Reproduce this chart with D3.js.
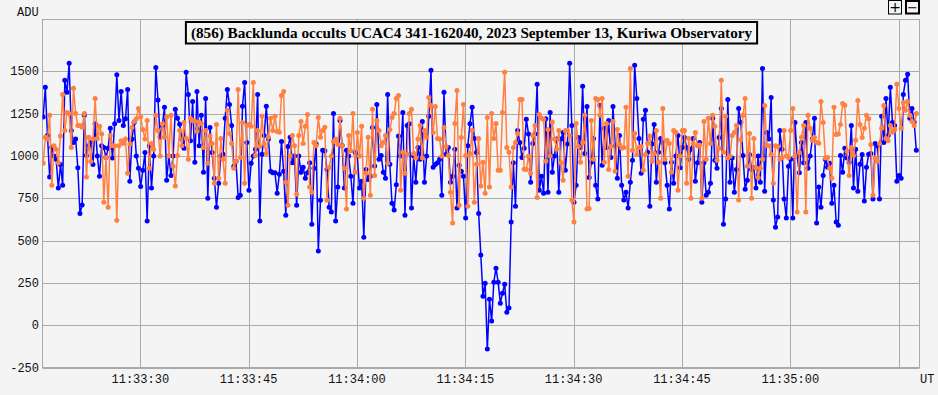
<!DOCTYPE html>
<html>
<head>
<meta charset="utf-8">
<script src="https://cdn.jsdelivr.net/npm/d3@7"></script>
<style>
  body { margin: 0; background: #f4f4f4; }
  svg { display: block; }
</style>
</head>
<body>
<svg id="chart" width="938" height="395"></svg>
<script>
const title = '(856) Backlunda occults UCAC4 341-162040, 2023 September 13, Kuriwa Observatory';
const yLabel = 'ADU';
const xLabel = 'UT';
const startTime = '2023-09-13T11:33:16.55Z';
const frameSeconds = 0.3;
const viewStart = '2023-09-13T11:33:16.46Z';
const viewEnd = '2023-09-13T11:35:17.89Z';
const yTicks = [-250, 0, 250, 500, 750, 1000, 1250, 1500];
const yTop = 1806;

// target star (blue)
const target = [
  1230,1405,1120,875,1050,1000,980,810,950,827,1447,1376,1547,1150,1080,1100,930,660,710,1240,
  1003,1060,1080,950,1190,1000,880,1060,1050,990,1045,1163,987,1190,1480,1210,1380,1180,1220,1393,
  850,1100,1197,1000,927,820,915,1020,615,1060,810,1000,1523,1330,1110,1180,1287,857,1000,
  885,1000,1276,1223,1187,1100,1045,1494,1363,1090,1322,963,1381,1060,1240,903,1340,750,1168,1020,
  868,697,838,1000,1010,1223,1393,1304,1180,939,968,755,767,1293,1434,1080,797,957,1000,1040,
  1363,615,1010,1120,1293,1100,909,900,900,779,891,1085,909,650,1056,1110,960,1000,
  709,1000,903,933,868,900,960,597,927,1070,438,738,1033,1030,920,697,668,1250,615,816,
  1210,1062,810,1033,1000,880,721,1020,1000,810,850,520,920,860,880,1168,940,1304,980,1003,
  903,868,1363,951,721,680,830,1117,1000,1257,650,1180,1190,692,1000,844,1050,980,
  1203,844,1000,1234,1506,933,950,960,980,767,1376,1010,1050,844,880,1040,692,945,910,880,
  633,1060,1190,1287,1103,1020,660,414,171,248,-141,153,24,254,337,254,130,189,242,77,
  101,610,960,703,1150,1080,990,1045,1217,1130,844,1073,1130,1423,797,880,779,1220,785,1257,
  903,1000,1100,
  785,1100,1139,915,1070,1547,1180,727,827,1109,1050,1411,1015,1292,873,963,1103,827,745,1298,
  945,1163,1050,1210,990,1292,1060,868,1121,827,739,785,692,844,974,1535,1340,1103,897,1217,
  1270,1021,703,1070,1186,844,1021,1103,1080,960,827,686,963,838,1000,1120,930,1050,
  1109,1050,980,1040,1103,850,960,1080,727,960,767,785,838,1223,974,927,1109,1280,597,745,
  1334,844,987,785,920,1280,1197,1003,803,857,1009,920,930,810,1000,844,1517,791,1139,1100,
  1345,739,579,639,1150,1040,745,633,939,980,633,1197,1000,900,1080,960,
  1197,927,1000,1100,1223,603,816,697,885,980,933,957,721,827,610,591,1003,903,1045,987,
  963,1180,810,1040,791,951,1009,733,933,1010,1015,745,1073,1060,745,1234,1080,1340,1120,1405,
  1197,1180,850,885,868,1363,1447,1482,1223,1280,1200,1033
];

// comparison star (orange)
const comparison = [
  957,1110,1100,1240,827,1060,1040,960,1117,1363,1150,1257,1250,1050,1400,1250,1180,1180,1170,1250,
  875,1110,967,1100,1340,1103,1175,1130,727,990,697,1120,1060,1060,620,1060,1090,1073,1100,897,
  1070,1168,1203,1220,1280,1230,1156,1100,1210,927,1073,1040,1240,1150,1000,1190,1110,1230,1000,
  1240,939,822,1003,1150,1060,1197,1103,980,1223,1210,1205,1145,1200,1192,1050,1150,957,1117,1073,
  838,1186,868,1103,980,838,1270,1133,1073,927,968,1393,991,1197,838,1180,1185,1175,1434,1003,
  1150,1056,1234,1073,1015,1110,1223,1150,1234,1145,1140,1357,1381,844,709,1000,1120,1060,
  773,1120,1203,1073,1175,1245,816,785,1080,1060,1227,1110,1150,1170,738,933,1000,1085,1100,1068,
  1223,1060,927,686,1121,1030,1250,903,1139,1000,1175,750,897,1110,767,1276,885,1210,1150,1060,
  1080,1121,957,1156,1227,1250,1340,1357,797,1021,897,1010,1250,1276,1015,987,1100,1180,
  987,1150,1110,1345,1298,1139,1292,1103,1100,998,1168,1056,1003,785,603,1192,1387,709,1109,1304,
  1003,703,1015,1150,727,951,1103,822,963,779,1227,816,1250,1103,1192,915,915,1257,1494,1050,
  1021,816,1050,1080,1133,1334,1334,921,920,998,897,1121,1180,755,1245,1223,1217,968,1156,1000,
  1200,1100,1040,
  1150,960,857,1150,1150,1121,739,610,1192,1056,963,1080,1240,686,690,1210,980,1340,1334,1240,
  1340,963,1192,920,1056,1203,909,1156,1068,1045,1050,1287,880,1517,1033,1133,1009,1050,1056,915,
  1009,1073,1117,968,1015,1150,963,750,1280,980,1092,1073,903,1150,1140,797,1000,1150,
  1150,838,1103,750,1073,1139,1060,1065,750,1203,980,1223,1073,1240,1175,974,1045,1447,1021,1234,
  987,998,1121,1139,1180,739,1097,1240,1340,939,1133,750,1103,930,873,927,980,1298,1062,1060,
  1009,838,1060,1056,980,991,1150,1000,990,1150,1280,1000,668,1020,1110,1180,
  668,1240,1163,1092,1110,1080,1075,1322,1197,987,990,927,868,1287,1127,1130,1186,1310,1300,1027,
  885,1050,1003,1092,1328,1186,1109,1163,1240,1220,1068,767,987,968,1073,1163,1298,1103,1090,1180,
  1140,1156,1423,1280,1163,1316,1270,1322,1240,1203,1180,1250
];

const colors = { target: '#0000ff', comparison: '#ff8040' };

const svg = d3.select('#chart');
const plot = { left: 42.5, right: 919.5, top: 19.5, bottom: 367.5 };

const t0 = new Date(startTime).getTime();
const timeAt = i => new Date(t0 + i * frameSeconds * 1000);

const xScale = d3.scaleUtc()
  .domain([new Date(viewStart), new Date(viewEnd)])
  .range([plot.left, plot.right]);
const yScale = d3.scaleLinear()
  .domain([-250, yTop])
  .range([plot.bottom, plot.top]);

// grid
const xTicks = xScale.ticks(d3.utcSecond.every(15));
const grid = svg.append('g').attr('stroke', '#aaaaaa').attr('stroke-width', 1);
grid.selectAll('.vx').data(xTicks).enter().append('line')
  .attr('x1', d => Math.round(xScale(d)) + 0.5)
  .attr('x2', d => Math.round(xScale(d)) + 0.5)
  .attr('y1', plot.top).attr('y2', plot.bottom);
grid.selectAll('.hy').data(yTicks).enter().append('line')
  .attr('y1', d => Math.round(yScale(d)) + 0.5)
  .attr('y2', d => Math.round(yScale(d)) + 0.5)
  .attr('x1', plot.left).attr('x2', plot.right);
grid.append('rect')
  .attr('x', plot.left).attr('y', plot.top)
  .attr('width', plot.right - plot.left).attr('height', plot.bottom - plot.top)
  .attr('fill', 'none');

// series
svg.append('clipPath').attr('id', 'clip').append('rect')
  .attr('x', plot.left).attr('y', plot.top)
  .attr('width', plot.right - plot.left).attr('height', plot.bottom - plot.top);
const layer = svg.append('g').attr('clip-path', 'url(#clip)');

const lineGenerator = d3.line()
  .x((d, i) => xScale(timeAt(i)))
  .y(d => yScale(d));

[['target', target], ['comparison', comparison]].forEach(([key, values]) => {
  const g = layer.append('g');
  g.append('path')
    .attr('d', lineGenerator(values))
    .attr('fill', 'none')
    .attr('stroke', colors[key])
    .attr('stroke-width', 1.5);
  g.selectAll('circle').data(values).enter().append('circle')
    .attr('cx', (d, i) => xScale(timeAt(i)))
    .attr('cy', d => yScale(d))
    .attr('r', 2.5)
    .attr('fill', colors[key]);
});

// axis labels
const mono = '"Liberation Mono", "Courier New", monospace';
svg.append('g').selectAll('text').data(yTicks).enter().append('text')
  .attr('x', 39).attr('y', d => yScale(d))
  .attr('dy', '0.35em')
  .attr('text-anchor', 'end')
  .attr('font-family', mono).attr('font-size', 12).attr('fill', '#111')
  .text(d => d);
const fmt = d3.utcFormat('%H:%M:%S');
svg.append('g').selectAll('text').data(xTicks.filter(d => xScale(d) < plot.right - 40)).enter().append('text')
  .attr('x', d => xScale(d)).attr('y', 383)
  .attr('text-anchor', 'middle')
  .attr('font-family', mono).attr('font-size', 12).attr('fill', '#111')
  .text(d => fmt(d));
svg.append('text').attr('x', 17).attr('y', 16)
  .attr('font-family', mono).attr('font-size', 12).attr('fill', '#111')
  .text(yLabel);
svg.append('text').attr('x', 920).attr('y', 383)
  .attr('font-family', mono).attr('font-size', 12).attr('fill', '#111')
  .text(xLabel);

// title box
const titleG = svg.append('g');
const titleText = titleG.append('text')
  .attr('x', 471.5).attr('y', 38)
  .attr('text-anchor', 'middle')
  .attr('font-family', '"Liberation Serif", "Times New Roman", serif')
  .attr('font-weight', 'bold').attr('font-size', 15.2)
  .attr('fill', '#000')
  .text(title);
const tw = titleText.node().getComputedTextLength();
titleG.insert('rect', 'text')
  .attr('x', 471.5 - tw / 2 - 5).attr('y', 22)
  .attr('width', tw + 10).attr('height', 21.5)
  .attr('fill', '#f4f4f4').attr('stroke', '#000').attr('stroke-width', 2);

// zoom buttons
const btn = svg.append('g');
btn.append('rect').attr('x', 888.5).attr('y', 0.5).attr('width', 13).attr('height', 13.5)
  .attr('fill', 'none').attr('stroke', '#000').attr('stroke-width', 1);
btn.append('text').attr('x', 895).attr('y', 12).attr('text-anchor', 'middle')
  .attr('font-family', '"DejaVu Sans", sans-serif').attr('font-size', 14).text('+');
btn.append('rect').attr('x', 906).attr('y', 1).attr('width', 13).attr('height', 12.5)
  .attr('fill', 'none').attr('stroke', '#000').attr('stroke-width', 2);
btn.append('text').attr('x', 912.5).attr('y', 11.5).attr('text-anchor', 'middle')
  .attr('font-family', '"DejaVu Sans", sans-serif').attr('font-size', 13).text('\u2212');
</script>
</body>
</html>
